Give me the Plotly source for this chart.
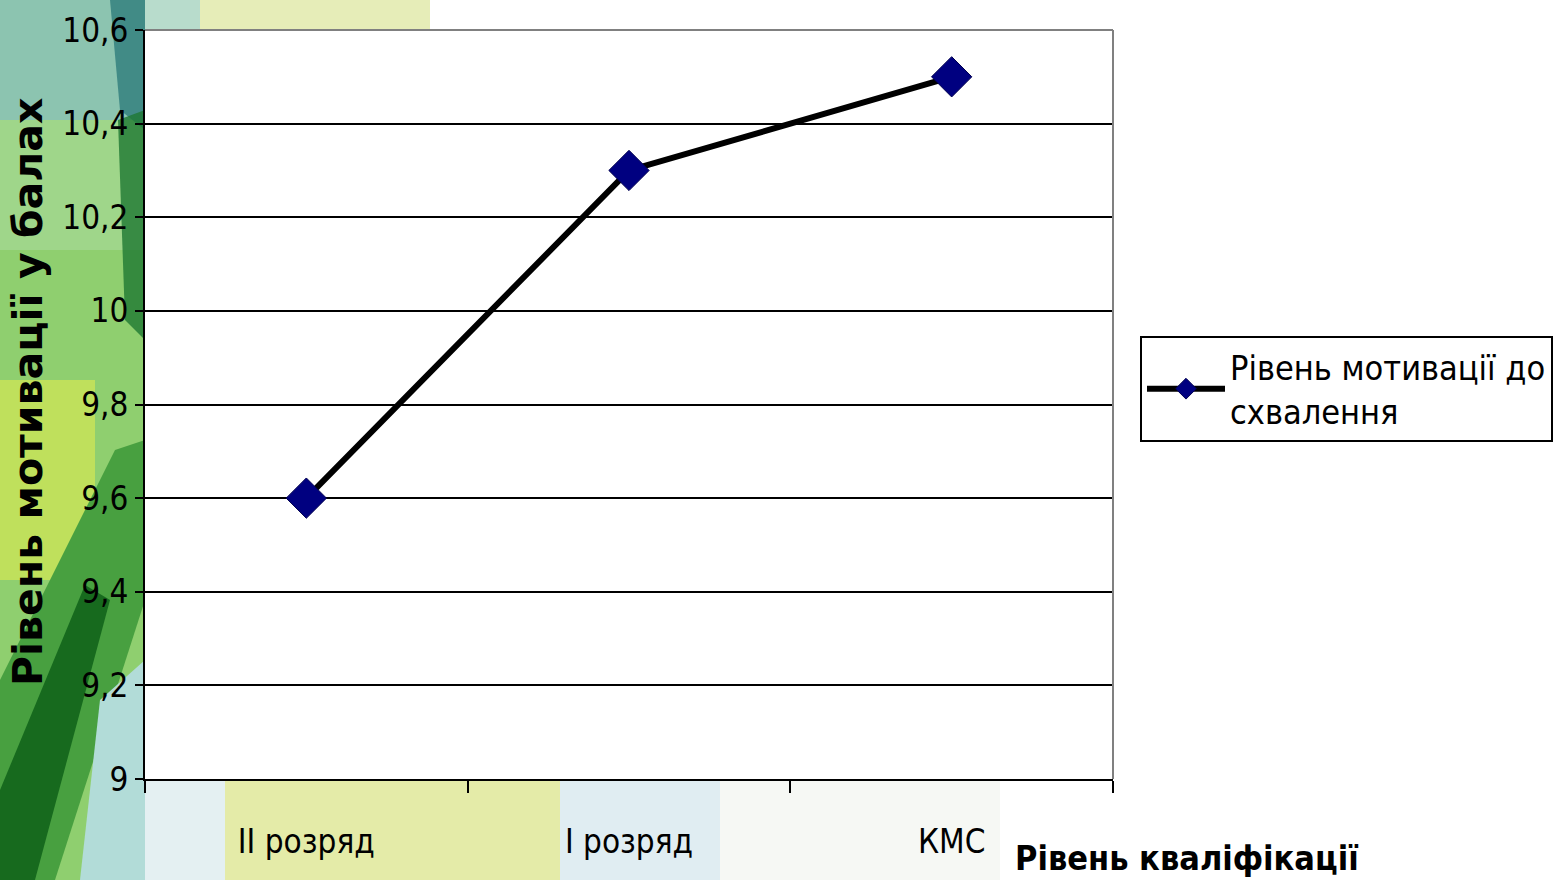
import plotly.graph_objects as go

categories = ["II розряд", "I розряд", "КМС"]
values = [9.6, 10.3, 10.5]
series_name = "Рівень мотивації до<br>схвалення"
y_title = "Рівень мотивації у балах"
x_title = "Рівень кваліфікації"

W, H = 1554, 880
FONT = "DejaVu Sans Condensed, Liberation Sans Narrow, DejaVu Sans, sans-serif"

fig = go.Figure()
fig.add_trace(go.Scatter(
    x=categories, y=values, mode="lines+markers", name=series_name,
    line=dict(color="black", width=6),
    marker=dict(symbol="diamond", size=31, color="#000080",
                line=dict(color="#000050", width=1)),
))


def px_x(v):
    return v / W


def px_y(v):
    return 1 - v / H


def rect(x0, x1, y0, y1, color):
    return dict(type="rect", xref="paper", yref="paper", layer="below",
                x0=px_x(x0), x1=px_x(x1), y0=px_y(y1), y1=px_y(y0),
                fillcolor=color, line=dict(width=0))


def poly(points, color):
    d = "M " + " L ".join(f"{px_x(a):.5f},{px_y(b):.5f}" for a, b in points) + " Z"
    return dict(type="path", xref="paper", yref="paper", layer="below",
                path=d, fillcolor=color, line=dict(width=0))


shapes = [
    # left decorative strip
    rect(0, 145, 0, 880, "#8fcf6f"),
    rect(0, 145, 0, 120, "#8cc4b0"),
    rect(0, 145, 120, 250, "#9fd68a"),
    poly([(110, 0), (145, 0), (145, 130), (120, 110)], "rgba(40,120,120,0.75)"),
    poly([(118, 120), (145, 110), (145, 340), (125, 320)], "rgba(30,120,50,0.8)"),
    rect(0, 95, 380, 580, "#bfe05c"),
    poly([(0, 680), (115, 450), (145, 440), (145, 600), (55, 880), (0, 880)],
         "#48a040"),
    poly([(0, 790), (85, 585), (110, 600), (35, 880), (0, 880)], "#176a1e"),
    poly([(100, 700), (145, 660), (145, 880), (80, 880)], "#b2dcd8"),
    # top band
    rect(145, 430, 0, 30, "#e6edb8"),
    rect(145, 200, 0, 30, "#b8dccc"),
    # bottom band
    rect(145, 225, 779, 880, "#e4f0f2"),
    rect(225, 560, 779, 880, "#e4eba8"),
    rect(560, 720, 779, 880, "#e0edf2"),
    rect(720, 1000, 779, 880, "#f6f8f4"),
    # plot frame (gray top/right)
    dict(type="line", xref="paper", yref="paper", layer="above",
         x0=px_x(145), x1=px_x(1113), y0=px_y(30), y1=px_y(30),
         line=dict(color="#808080", width=2)),
    dict(type="line", xref="paper", yref="paper", layer="above",
         x0=px_x(1113), x1=px_x(1113), y0=px_y(30), y1=px_y(779),
         line=dict(color="#808080", width=2)),
]

fig.update_layout(
    width=W, height=H,
    margin=dict(l=0, r=0, t=0, b=0, pad=0),
    paper_bgcolor="white",
    plot_bgcolor="white",
    separators=", ",
    font=dict(family=FONT, color="black", size=30),
    showlegend=True,
    legend=dict(x=px_x(1140), y=px_y(336), xanchor="left", yanchor="top",
                bgcolor="white", bordercolor="black", borderwidth=2,
                font=dict(family=FONT, size=34, color="black"),
                itemwidth=78, tracegroupgap=0),
    xaxis=dict(
        domain=[px_x(145), px_x(1113)],
        type="category", range=[-0.5, 2.5],
        automargin=False,
        showline=True, linecolor="black", linewidth=2,
        ticks="outside", tickson="boundaries", ticklen=12,
        tickcolor="black", tickwidth=2,
        showgrid=False, zeroline=False,
        tickfont=dict(family=FONT, size=33, color="black"),
        ticklabelstandoff=32,
    ),
    yaxis=dict(
        domain=[px_y(779), px_y(30)],
        range=[9, 10.6], dtick=0.2, tick0=9,
        automargin=False,
        showline=True, linecolor="black", linewidth=2,
        ticks="outside", ticklen=8, tickcolor="black", tickwidth=2,
        showgrid=True, gridcolor="black", gridwidth=2,
        zeroline=False,
        tickfont=dict(family=FONT, size=33, color="black"),
    ),
    shapes=shapes,
    annotations=[
        dict(text=x_title, xref="paper", yref="paper",
             x=px_x(1013), y=px_y(858), xanchor="left", yanchor="middle",
             showarrow=False,
             font=dict(family=FONT, size=34, color="black", weight="bold")),
        dict(text=y_title, xref="paper", yref="paper", textangle=-90,
             x=px_x(28), y=px_y(392), xanchor="center", yanchor="middle",
             showarrow=False,
             font=dict(family="DejaVu Sans, sans-serif", size=41,
                       color="black", weight="bold")),
    ],
)

fig.write_html("out.html", config={"displayModeBar": False},
               post_script="document.body.style.margin='0';"
                           "document.body.style.padding='0';"
                           "document.body.style.overflow='hidden';")
